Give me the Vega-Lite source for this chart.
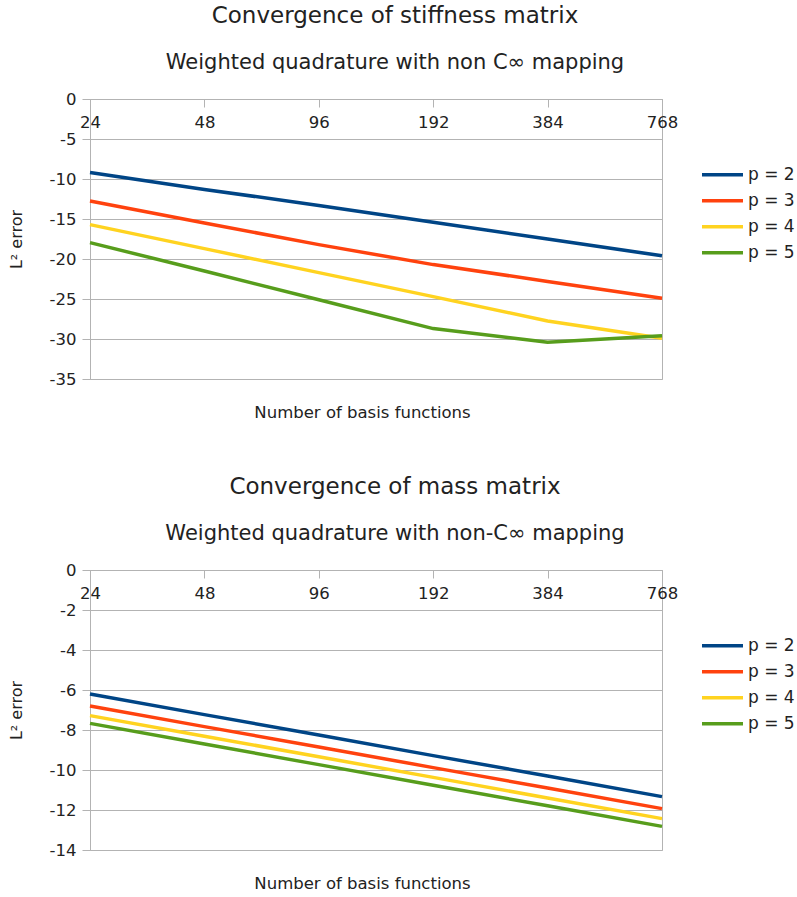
{
  "$schema": "https://vega.github.io/schema/vega-lite/v6.json",
  "padding": {"left": 7, "top": 4, "right": 0, "bottom": 0},
  "background": "white",
  "config": {
    "font": "DejaVu Sans",
    "view": {"stroke": "#b3b3b3", "strokeWidth": 1},
    "axis": {
      "labelFont": "DejaVu Sans", "titleFont": "DejaVu Sans",
      "labelColor": "#222", "titleColor": "#222",
      "domainColor": "#b3b3b3", "tickColor": "#b3b3b3", "gridColor": "#b3b3b3",
      "labelFontSize": 16.5, "titleFontWeight": "normal"
    },
    "title": {
      "font": "DejaVu Sans", "fontSize": 23, "fontWeight": "normal", "color": "#222",
      "subtitleFont": "DejaVu Sans", "subtitleFontSize": 21, "subtitleColor": "#222",
      "subtitlePadding": 24, "anchor": "middle", "offset": 18, "dx": 19
    },
    "legend": {
      "orient": "none", "legendX": 610, "legendY": 63,
      "symbolType": "stroke", "symbolSize": 1680, "symbolStrokeWidth": 3.5,
      "labelFont": "DejaVu Sans", "labelFontSize": 17, "labelColor": "#222",
      "clipHeight": 25.7, "rowPadding": 0, "labelOffset": 3
    }
  },
  "spacing": 54,
  "resolve": {
    "scale": {"y": "independent", "color": "independent"},
    "legend": {"color": "independent"}
  },
  "vconcat": [
    {
      "title": {"text": "Convergence of stiffness matrix", "subtitle": "Weighted quadrature with non C∞ mapping"},
      "width": 572, "height": 280,
      "data": {"values": [
        {"n": 24, "err": -9.2, "p": "p = 2"}, {"n": 48, "err": -11.3, "p": "p = 2"}, {"n": 96, "err": -13.3, "p": "p = 2"},
        {"n": 192, "err": -15.4, "p": "p = 2"}, {"n": 384, "err": -17.5, "p": "p = 2"}, {"n": 768, "err": -19.6, "p": "p = 2"},
        {"n": 24, "err": -12.75, "p": "p = 3"}, {"n": 48, "err": -15.5, "p": "p = 3"}, {"n": 96, "err": -18.2, "p": "p = 3"},
        {"n": 192, "err": -20.7, "p": "p = 3"}, {"n": 384, "err": -22.8, "p": "p = 3"}, {"n": 768, "err": -24.9, "p": "p = 3"},
        {"n": 24, "err": -15.7, "p": "p = 4"}, {"n": 48, "err": -18.7, "p": "p = 4"}, {"n": 96, "err": -21.7, "p": "p = 4"},
        {"n": 192, "err": -24.7, "p": "p = 4"}, {"n": 384, "err": -27.75, "p": "p = 4"}, {"n": 768, "err": -29.9, "p": "p = 4"},
        {"n": 24, "err": -17.95, "p": "p = 5"}, {"n": 48, "err": -21.5, "p": "p = 5"}, {"n": 96, "err": -25.1, "p": "p = 5"},
        {"n": 192, "err": -28.7, "p": "p = 5"}, {"n": 384, "err": -30.4, "p": "p = 5"}, {"n": 768, "err": -29.6, "p": "p = 5"}
      ]},
      "mark": {"type": "line", "strokeWidth": 3.5},
      "encoding": {
        "x": {
          "field": "n", "type": "quantitative",
          "scale": {"type": "log", "base": 2, "domain": [24, 768], "nice": false},
          "axis": {
            "values": [24, 48, 96, 192, 384, 768], "format": "d", "orient": "bottom", "offset": -280,
            "grid": false, "tickSize": 8, "labelPadding": 7, "labelFlush": false,
            "title": "Number of basis functions", "titleFontSize": 16.5,
            "titleY": 313, "titleX": 272, "titleBaseline": "middle"
          }
        },
        "y": {
          "field": "err", "type": "quantitative",
          "scale": {"domain": [-35, 0], "nice": false},
          "axis": {
            "values": [0, -5, -10, -15, -20, -25, -30, -35], "labelExpr": "'' + datum.value",
            "tickSize": 8, "labelPadding": 6,
            "title": "L² error", "titleFontSize": 16, "titlePadding": 25
          }
        },
        "color": {
          "field": "p", "type": "nominal",
          "scale": {"domain": ["p = 2", "p = 3", "p = 4", "p = 5"], "range": ["#004586", "#ff420e", "#ffd320", "#579d1c"]},
          "legend": {"title": null}
        }
      }
    },
    {
      "title": {"text": "Convergence of mass matrix", "subtitle": "Weighted quadrature with non-C∞ mapping"},
      "width": 572, "height": 280,
      "data": {"values": [
        {"n": 24, "err": -6.2, "p": "p = 2"}, {"n": 48, "err": -7.23, "p": "p = 2"}, {"n": 96, "err": -8.25, "p": "p = 2"},
        {"n": 192, "err": -9.28, "p": "p = 2"}, {"n": 384, "err": -10.3, "p": "p = 2"}, {"n": 768, "err": -11.33, "p": "p = 2"},
        {"n": 24, "err": -6.8, "p": "p = 3"}, {"n": 48, "err": -7.83, "p": "p = 3"}, {"n": 96, "err": -8.85, "p": "p = 3"},
        {"n": 192, "err": -9.88, "p": "p = 3"}, {"n": 384, "err": -10.9, "p": "p = 3"}, {"n": 768, "err": -11.93, "p": "p = 3"},
        {"n": 24, "err": -7.28, "p": "p = 4"}, {"n": 48, "err": -8.31, "p": "p = 4"}, {"n": 96, "err": -9.34, "p": "p = 4"},
        {"n": 192, "err": -10.37, "p": "p = 4"}, {"n": 384, "err": -11.4, "p": "p = 4"}, {"n": 768, "err": -12.43, "p": "p = 4"},
        {"n": 24, "err": -7.67, "p": "p = 5"}, {"n": 48, "err": -8.7, "p": "p = 5"}, {"n": 96, "err": -9.73, "p": "p = 5"},
        {"n": 192, "err": -10.76, "p": "p = 5"}, {"n": 384, "err": -11.79, "p": "p = 5"}, {"n": 768, "err": -12.82, "p": "p = 5"}
      ]},
      "mark": {"type": "line", "strokeWidth": 3.5},
      "encoding": {
        "x": {
          "field": "n", "type": "quantitative",
          "scale": {"type": "log", "base": 2, "domain": [24, 768], "nice": false},
          "axis": {
            "values": [24, 48, 96, 192, 384, 768], "format": "d", "orient": "bottom", "offset": -280,
            "grid": false, "tickSize": 8, "labelPadding": 7, "labelFlush": false,
            "title": "Number of basis functions", "titleFontSize": 16.5,
            "titleY": 313, "titleX": 272, "titleBaseline": "middle"
          }
        },
        "y": {
          "field": "err", "type": "quantitative",
          "scale": {"domain": [-14, 0], "nice": false},
          "axis": {
            "values": [0, -2, -4, -6, -8, -10, -12, -14], "labelExpr": "'' + datum.value",
            "tickSize": 8, "labelPadding": 6,
            "title": "L² error", "titleFontSize": 16, "titlePadding": 25
          }
        },
        "color": {
          "field": "p", "type": "nominal",
          "scale": {"domain": ["p = 2", "p = 3", "p = 4", "p = 5"], "range": ["#004586", "#ff420e", "#ffd320", "#579d1c"]},
          "legend": {"title": null}
        }
      }
    }
  ]
}
